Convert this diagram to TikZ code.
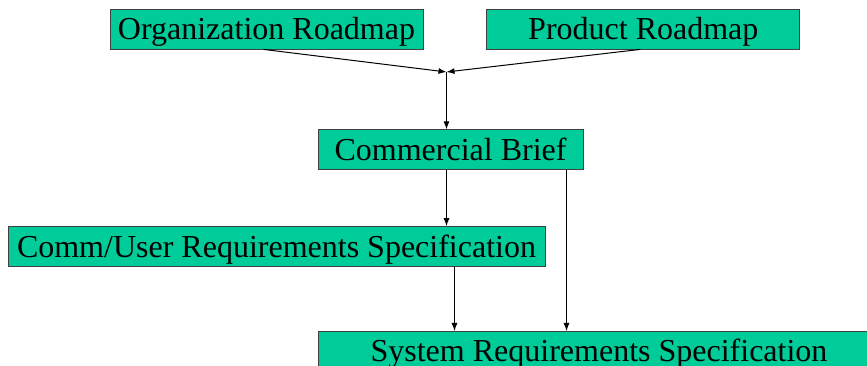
\documentclass[tikz,border=0pt]{standalone}
\usepackage{fontspec}
\setmainfont{Liberation Serif}
\usepackage{xcolor}
\usetikzlibrary{positioning,arrows.meta}

\definecolor{boxgreen}{HTML}{00CC99}

\begin{document}
\begin{tikzpicture}[x=1pt, y=1pt, ->, >={Latex[length=8pt,width=6pt]}, line width=1pt,
    box node/.style={rectangle, draw=black!75, line width=0.8pt, fill=boxgreen, minimum height=40pt, inner sep=0pt, text height=24pt, text depth=3pt, font=\fontsize{32pt}{38pt}\selectfont}]
                \useasboundingbox (0,0) rectangle (867,366);

                \node[box node, minimum width=313pt] (org) at (266.5,337) {Organization Roadmap};
                \node[box node, minimum width=313pt] (prod) [right=63pt of org] {Product Roadmap};

                \node[box node, minimum width=265pt] (cb) [below=80pt of org, xshift=184pt] {Commercial Brief};
                \node[box node, minimum width=537pt] (cu) [below=56pt of cb, xshift=-174pt] {Comm/User Requirements Specification};
                \node[box node, minimum width=562pt] (srs) [below=64pt of cu, xshift=322.5pt] {System Requirements Specification};

                \coordinate (j) at (446.5,294);

                \draw ([xshift=-3pt]org.south) -- (j);
                \draw ([xshift=-3pt]prod.south) -- (j);
                \draw (j) -- (j |- cb.north);
                \draw (j |- cb.south) -- (j |- cu.north);
                \draw ([xshift=178pt]cu.south) -- ([xshift=178pt]cu.south |- srs.north);
                \draw ([xshift=116pt]cb.south) -- ([xshift=116pt]cb.south |- srs.north);
            \end{tikzpicture}
\end{document}
